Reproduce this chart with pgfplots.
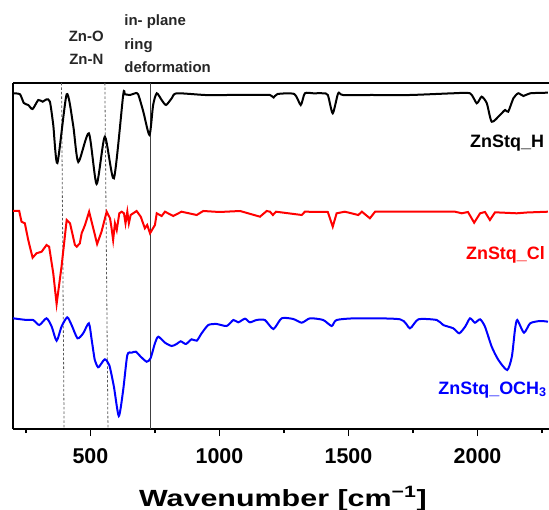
\documentclass[border=0pt]{standalone}
\usepackage{fontspec}
\setmainfont{Liberation Sans}
\usepackage{pgfplots}
\pgfplotsset{compat=1.18}

\begin{document}
\begin{tikzpicture}
\begin{axis}[
  name=ax,
  scale only axis, width=536bp, height=346bp,
  xmin=200, xmax=2277, ymin=-429, ymax=-83,
  axis x line=box, axis y line=left,
  axis line style={-, line width=1.2bp},
  ytick=\empty,
  xtick={500,1000,1500,2000},
  minor xtick={250,750,1250,1750,2250},
  xtick pos=bottom, tick align=outside,
  major tick length=7bp, minor tick length=4bp,
  every tick/.style={line width=1.2bp, black},
  /pgf/number format/1000 sep={},
  /pgf/number format/assume math mode=true,
  xticklabel style={font=\fontsize{21.5}{24}\selectfont\bfseries, yshift=-9bp},
  clip=false,
]
% reference lines
\addplot[gray!70!black, line width=0.8bp, dash pattern=on 2.5bp off 2bp] coordinates {(388,-83) (398,-429)};
\addplot[gray!70!black, line width=0.8bp, dash pattern=on 2.5bp off 2bp] coordinates {(556,-83) (568,-429)};
\addplot[black!75, line width=0.9bp] coordinates {(733,-83) (733,-429)};

% ZnStq_H
\addplot[black, line width=2bp, smooth, tension=0.4] coordinates {
(200,-93.3) (227,-94.3) (242,-103) (259,-105) (276,-109) (298,-100) (315,-101.7)
(330,-99.3) (343,-101.7) (356,-125) (372,-163) (408,-94.3) (433,-125) (453,-162)
(494,-133.3) (524,-184) (556,-136.7) (591,-178.3) (627,-95) (634,-94.3) (653,-95)
(673,-93.3) (685,-94.3) (705,-111.7) (729,-135) (743,-105) (757,-93.3) (776,-100)
(793,-105) (815,-98.3) (834,-93.3) (944,-95) (1033,-95) (1149,-95) (1196,-95)
(1210,-97.5) (1225,-94) (1290,-94) (1315,-105) (1331,-93.3) (1364,-93.3) (1401,-93.3)
(1420,-95) (1439,-113.3) (1460,-93.3) (1479,-95) (1590,-95) (1738,-95) (1905,-93.3)
(1971,-93.3) (1997,-103.3) (2016,-96.7) (2036,-103.3) (2055,-121.7) (2087,-115)
(2107,-110) (2119,-111.7) (2139,-98.3) (2158,-93.3) (2178,-96) (2204,-93.3) (2273,-92.7)
};

% ZnStq_Cl
\addplot[red, line width=2bp] coordinates {
(200,-211) (224,-211) (233,-221.7) (246,-223.3) (259,-240) (276,-257.7) (291,-253.3)
(311,-251.7) (330,-245) (340,-246.7) (356,-273.3) (369,-304) (388,-266.7) (408,-220)
(421,-223.3) (440,-245) (447,-246.7) (459,-243.3) (466,-233.3) (479,-225) (495,-211.7)
(511,-228.3) (526,-244) (543,-231.7) (563,-211.7) (576,-218.3) (582,-228.3) (588,-240)
(595,-223.3) (602,-230) (612,-213.3) (621,-211.7) (630,-213.3) (636,-223.3) (643,-211.7)
(649,-223.3) (656,-215) (679,-211) (695,-216.7) (711,-228.3) (720,-225) (731,-233.3)
(750,-225) (757,-213.3) (776,-216) (789,-211.7) (821,-216) (853,-211.7) (912,-215)
(937,-211) (1000,-212) (1080,-211) (1157,-216.7) (1183,-211) (1196,-211.7) (1207,-215)
(1219,-211.7) (1319,-215) (1331,-211.7) (1420,-212) (1439,-226.7) (1454,-213.3)
(1486,-211.7) (1538,-215) (1552,-211.7) (1583,-218.3) (1603,-211.7) (1913,-211.7)
(1939,-213.3) (1963,-212) (1987,-222.7) (2010,-213.3) (2029,-212) (2048,-220)
(2068,-212.3) (2152,-213.3) (2191,-212.5) (2273,-211.7)
};

% ZnStq_OCH3
\addplot[blue, line width=2bp, smooth, tension=0.4] coordinates {
(200,-318.3) (253,-320) (278,-320) (302,-325) (330,-318.3) (350,-326.7) (369,-340.7)
(388,-326.7) (410,-317.3) (427,-325) (450,-338.3) (472,-333.3) (494,-323.3) (505,-340)
(517,-360) (530,-367.3) (543,-363.3) (556,-359.3) (573,-365) (591,-386.7) (610,-416)
(627,-390) (643,-355) (660,-352.7) (676,-351.7) (695,-356.7) (718,-361.7) (733,-358.3)
(750,-343.3) (763,-336.7) (789,-342.7) (815,-346) (834,-344) (850,-341.3) (870,-344)
(892,-339.3) (912,-340.7) (931,-333.3) (957,-325) (989,-324) (1028,-326) (1054,-320)
(1073,-322.3) (1099,-318.7) (1118,-322.3) (1144,-320) (1176,-320) (1209,-329)
(1241,-318.3) (1286,-319) (1319,-322.7) (1351,-318.3) (1402,-320) (1435,-326)
(1454,-320) (1532,-318.3) (1700,-319.3) (1738,-328.3) (1771,-319.3) (1842,-320)
(1867,-325) (1906,-328.3) (1929,-333.3) (1952,-326.7) (1971,-318.3) (1990,-322.7)
(2010,-319.3) (2029,-326.7) (2055,-346.7) (2081,-360) (2115,-370) (2133,-356.7)
(2145,-330) (2154,-320) (2180,-332.7) (2204,-323.3) (2242,-321) (2273,-321.7)
};

% labels
\begin{scope}[font=\fontsize{15}{17}\selectfont\bfseries, text=black!85]
\node[anchor=base] at (axis cs:484,-41.7) {Zn-O};
\node[anchor=base] at (axis cs:484,-64.3) {Zn-N};
\node[anchor=base west, inner sep=0pt] at (axis cs:631,-26) {in- plane};
\node[anchor=base west, inner sep=0pt] at (axis cs:631,-49.3) {ring};
\node[anchor=base west, inner sep=0pt] at (axis cs:631,-72.7) {deformation};
\end{scope}
\begin{scope}[font=\fontsize{18}{20}\selectfont\bfseries]
\node[anchor=base west, inner sep=0pt, text=black] at (axis cs:1971,-147.3) {ZnStq\_H};
\node[anchor=base west, inner sep=0pt, text=red] at (axis cs:1955,-260) {ZnStq\_Cl};
\node[anchor=base west, inner sep=0pt, text=blue] at (axis cs:1848,-394) {ZnStq\_OCH\textsubscript{3}};
\end{scope}
\node[anchor=base, inner sep=0pt] at (axis cs:1246,-506)
  {\scalebox{1.3}[1]{\fontsize{23.5}{26}\selectfont\bfseries Wavenumber [cm\textsuperscript{−1}]}};
\end{axis}
\pgfresetboundingbox
\path[use as bounding box] ([shift={(-13bp,-81bp)}]ax.south west) rectangle ([shift={(0bp,83bp)}]ax.north east);
\end{tikzpicture}
\end{document}
